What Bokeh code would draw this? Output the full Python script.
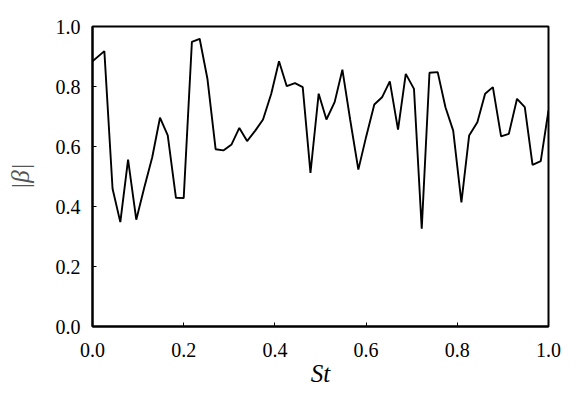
from bokeh.plotting import figure
from bokeh.models import SingleIntervalTicker, PrintfTickFormatter, Range1d
from bokeh.embed import file_html
from bokeh.resources import INLINE

st = [0.000, 0.026, 0.044, 0.061, 0.078, 0.096, 0.113, 0.131, 0.148, 0.165,
      0.183, 0.200, 0.218, 0.235, 0.252, 0.270, 0.287, 0.305, 0.322, 0.339,
      0.357, 0.374, 0.392, 0.409, 0.426, 0.444, 0.461, 0.478, 0.496, 0.513,
      0.531, 0.548, 0.565, 0.583, 0.600, 0.618, 0.635, 0.652, 0.670, 0.687,
      0.705, 0.722, 0.739, 0.757, 0.774, 0.791, 0.809, 0.826, 0.844, 0.861,
      0.878, 0.896, 0.913, 0.931, 0.948, 0.965, 0.983, 1.000]
beta = [0.884, 0.918, 0.459, 0.348, 0.556, 0.356, 0.460, 0.564, 0.696, 0.637,
        0.429, 0.428, 0.949, 0.959, 0.826, 0.591, 0.587, 0.607, 0.662, 0.618,
        0.653, 0.690, 0.776, 0.884, 0.801, 0.811, 0.798, 0.512, 0.776, 0.690,
        0.748, 0.856, 0.690, 0.523, 0.632, 0.740, 0.764, 0.817, 0.656, 0.842,
        0.792, 0.326, 0.846, 0.848, 0.731, 0.653, 0.414, 0.637, 0.681, 0.776,
        0.798, 0.634, 0.642, 0.759, 0.731, 0.539, 0.551, 0.720]

FONT = "Liberation Serif"

p = figure(frame_width=456, frame_height=300, output_backend="svg",
           toolbar_location=None, x_range=Range1d(0, 1), y_range=Range1d(0, 1),
           min_border_left=92, min_border_top=26, min_border_right=20,
           min_border_bottom=20)

p.line(st, beta, line_color="black", line_width=1.9)

p.xgrid.visible = False
p.ygrid.visible = False
p.outline_line_color = "black"
p.outline_line_width = 2
p.background_fill_color = "white"
p.border_fill_color = "white"

for ax in (p.xaxis[0], p.yaxis[0]):
    ax.ticker = SingleIntervalTicker(interval=0.2)
    ax.formatter = PrintfTickFormatter(format="%.1f")
    ax.minor_tick_line_color = None
    ax.major_tick_in = 4
    ax.major_tick_out = 0
    ax.major_tick_line_width = 1
    ax.major_tick_line_color = "black"
    ax.axis_line_width = 2
    ax.axis_line_color = "black"
    ax.major_label_text_font = FONT
    ax.major_label_text_font_size = "20px"
    ax.major_label_text_color = "black"
    ax.axis_label_text_font = FONT
    ax.axis_label_text_font_size = "25px"

p.xaxis.major_label_standoff = 12
p.yaxis.major_label_standoff = 8

p.xaxis.axis_label = "St"
p.xaxis.axis_label_text_font_style = "italic"
p.xaxis.axis_label_text_color = "black"
p.xaxis.axis_label_standoff = 0

p.yaxis.axis_label = "|β|"
p.yaxis.axis_label_text_font_style = "italic"
p.yaxis.axis_label_text_color = "#555555"
p.yaxis.axis_label_standoff = 19

open("out.html", "w").write(file_html(p, INLINE))
